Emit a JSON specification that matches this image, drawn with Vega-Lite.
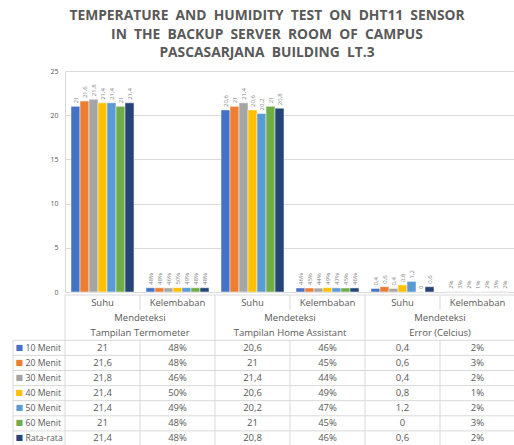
{
  "$schema": "https://vega.github.io/schema/vega-lite/v6.json",
  "padding": {"left": 12, "top": 9, "right": 0, "bottom": 0},
  "autosize": {"type": "pad"},
  "title": {
    "text": ["TEMPERATURE\u00a0 AND\u00a0 HUMIDITY\u00a0 TEST\u00a0 ON\u00a0 DHT11\u00a0 SENSOR", "IN\u00a0 THE\u00a0 BACKUP\u00a0 SERVER\u00a0 ROOM\u00a0 OF\u00a0 CAMPUS", "PASCASARJANA\u00a0 BUILDING\u00a0 LT.3"],
    "font": "Open Sans", "fontSize": 13.8, "fontWeight": "bold", "color": "#595959",
    "lineHeight": 18.5, "anchor": "middle", "offset": 7, "dx": 3
  },
  "config": {"view": {"stroke": null}, "font": "Open Sans"},
  "datasets": {
    "d": [
      {"col": "T-S", "series": "10 Menit", "value": 21, "label": "21"},
      {"col": "T-S", "series": "20 Menit", "value": 21.6, "label": "21,6"},
      {"col": "T-S", "series": "30 Menit", "value": 21.8, "label": "21,8"},
      {"col": "T-S", "series": "40 Menit", "value": 21.4, "label": "21,4"},
      {"col": "T-S", "series": "50 Menit", "value": 21.4, "label": "21,4"},
      {"col": "T-S", "series": "60 Menit", "value": 21, "label": "21"},
      {"col": "T-S", "series": "Rata-rata", "value": 21.4, "label": "21,4"},
      {"col": "T-K", "series": "10 Menit", "value": 0.48, "label": "48%"},
      {"col": "T-K", "series": "20 Menit", "value": 0.48, "label": "48%"},
      {"col": "T-K", "series": "30 Menit", "value": 0.46, "label": "46%"},
      {"col": "T-K", "series": "40 Menit", "value": 0.5, "label": "50%"},
      {"col": "T-K", "series": "50 Menit", "value": 0.49, "label": "49%"},
      {"col": "T-K", "series": "60 Menit", "value": 0.48, "label": "48%"},
      {"col": "T-K", "series": "Rata-rata", "value": 0.48, "label": "48%"},
      {"col": "H-S", "series": "10 Menit", "value": 20.6, "label": "20,6"},
      {"col": "H-S", "series": "20 Menit", "value": 21, "label": "21"},
      {"col": "H-S", "series": "30 Menit", "value": 21.4, "label": "21,4"},
      {"col": "H-S", "series": "40 Menit", "value": 20.6, "label": "20,6"},
      {"col": "H-S", "series": "50 Menit", "value": 20.2, "label": "20,2"},
      {"col": "H-S", "series": "60 Menit", "value": 21, "label": "21"},
      {"col": "H-S", "series": "Rata-rata", "value": 20.8, "label": "20,8"},
      {"col": "H-K", "series": "10 Menit", "value": 0.46, "label": "46%"},
      {"col": "H-K", "series": "20 Menit", "value": 0.45, "label": "45%"},
      {"col": "H-K", "series": "30 Menit", "value": 0.44, "label": "44%"},
      {"col": "H-K", "series": "40 Menit", "value": 0.49, "label": "49%"},
      {"col": "H-K", "series": "50 Menit", "value": 0.47, "label": "47%"},
      {"col": "H-K", "series": "60 Menit", "value": 0.45, "label": "45%"},
      {"col": "H-K", "series": "Rata-rata", "value": 0.46, "label": "46%"},
      {"col": "E-S", "series": "10 Menit", "value": 0.4, "label": "0,4"},
      {"col": "E-S", "series": "20 Menit", "value": 0.6, "label": "0,6"},
      {"col": "E-S", "series": "30 Menit", "value": 0.4, "label": "0,4"},
      {"col": "E-S", "series": "40 Menit", "value": 0.8, "label": "0,8"},
      {"col": "E-S", "series": "50 Menit", "value": 1.2, "label": "1,2"},
      {"col": "E-S", "series": "60 Menit", "value": 0, "label": "0"},
      {"col": "E-S", "series": "Rata-rata", "value": 0.6, "label": "0,6"},
      {"col": "E-K", "series": "10 Menit", "value": 0.02, "label": "2%"},
      {"col": "E-K", "series": "20 Menit", "value": 0.03, "label": "3%"},
      {"col": "E-K", "series": "30 Menit", "value": 0.02, "label": "2%"},
      {"col": "E-K", "series": "40 Menit", "value": 0.01, "label": "1%"},
      {"col": "E-K", "series": "50 Menit", "value": 0.02, "label": "2%"},
      {"col": "E-K", "series": "60 Menit", "value": 0.03, "label": "3%"},
      {"col": "E-K", "series": "Rata-rata", "value": 0.02, "label": "2%"}
    ],
    "ser": [
      {"series": "10 Menit"}, {"series": "20 Menit"}, {"series": "30 Menit"}, {"series": "40 Menit"},
      {"series": "50 Menit"}, {"series": "60 Menit"}, {"series": "Rata-rata"}
    ],
    "lv": [{"r1": "10 Menit", "r2": "Rata-rata"}],
    "hl": [
      {"row": "h1"}, {"row": "10 Menit"}, {"row": "20 Menit"}, {"row": "30 Menit"}, {"row": "40 Menit"},
      {"row": "50 Menit"}, {"row": "60 Menit"}, {"row": "Rata-rata"}
    ],
    "vf": [{"col": "T-S"}, {"col": "H-S"}, {"col": "E-S"}],
    "vp": [
      {"col": "T-K", "r1": "h1", "r2": "h1"}, {"col": "T-K", "r1": "10 Menit", "r2": "Rata-rata"},
      {"col": "H-K", "r1": "h1", "r2": "h1"}, {"col": "H-K", "r1": "10 Menit", "r2": "Rata-rata"},
      {"col": "E-K", "r1": "h1", "r2": "h1"}, {"col": "E-K", "r1": "10 Menit", "r2": "Rata-rata"}
    ],
    "hdr1": [
      {"col": "T-S", "row": "h1", "text": "Suhu"}, {"col": "T-K", "row": "h1", "text": "Kelembaban"},
      {"col": "H-S", "row": "h1", "text": "Suhu"}, {"col": "H-K", "row": "h1", "text": "Kelembaban"},
      {"col": "E-S", "row": "h1", "text": "Suhu"}, {"col": "E-K", "row": "h1", "text": "Kelembaban"}
    ],
    "hdr2": [
      {"col": "T-K", "row": "h2", "text": "Mendeteksi"}, {"col": "T-K", "row": "h3", "text": "Tampilan Termometer"},
      {"col": "H-K", "row": "h2", "text": "Mendeteksi"}, {"col": "H-K", "row": "h3", "text": "Tampilan Home Assistant"},
      {"col": "E-K", "row": "h2", "text": "Mendeteksi"}, {"col": "E-K", "row": "h3", "text": "Error (Celcius)"}
    ]
  },
  "spacing": -2,
  "resolve": {"scale": {"x": "independent", "y": "independent"}},
  "vconcat": [
    {
      "spacing": 0,
      "bounds": "flush",
      "resolve": {"scale": {"x": "independent", "y": "independent"}},
      "hconcat": [
        {
          "width": 52, "height": 221,
          "data": {"values": [{}]},
          "mark": {"type": "text", "text": ""}
        },
        {
          "width": 450, "height": 221,
          "data": {"name": "d"},
          "encoding": {
            "x": {"field": "col", "type": "nominal", "axis": null,
                  "scale": {"domain": ["T-S", "T-K", "H-S", "H-K", "E-S", "E-K"], "paddingInner": 0.16, "paddingOuter": 0.08}},
            "xOffset": {"field": "series", "type": "nominal",
                  "scale": {"domain": ["10 Menit", "20 Menit", "30 Menit", "40 Menit", "50 Menit", "60 Menit", "Rata-rata"], "paddingInner": 0, "paddingOuter": 0}},
            "y": {"field": "value", "type": "quantitative",
                  "scale": {"domain": [0, 25]},
                  "axis": {"values": [0, 5, 10, 15, 20, 25], "title": null, "grid": true, "gridColor": "#d9d9d9",
                           "domain": true, "domainColor": "#d9d9d9", "ticks": false,
                           "labelFontSize": 7, "labelColor": "#595959", "labelPadding": 7}}
          },
          "layer": [
            {"mark": {"type": "bar", "stroke": "white", "strokeWidth": 0.5},
             "encoding": {"color": {"field": "series", "type": "nominal", "legend": null,
               "scale": {"domain": ["10 Menit", "20 Menit", "30 Menit", "40 Menit", "50 Menit", "60 Menit", "Rata-rata"],
                         "range": ["#4472C4", "#ED7D31", "#A5A5A5", "#FFC000", "#5B9BD5", "#70AD47", "#264478"]}}}},
            {"mark": {"type": "text", "angle": 270, "align": "left", "baseline": "middle", "dx": 3, "fontSize": 6, "color": "#7f7f7f"},
             "encoding": {"text": {"field": "label", "type": "nominal"}}}
          ]
        }
      ]
    },
    {
      "spacing": 0,
      "bounds": "flush",
      "resolve": {"scale": {"x": "independent", "y": "independent"}},
      "hconcat": [
        {
          "width": 52, "height": 151,
          "encoding": {
            "y": {"field": "series", "type": "nominal", "axis": null,
                  "scale": {"type": "band", "paddingInner": 0, "paddingOuter": 0,
                            "domain": ["h1", "h2", "h3", "10 Menit", "20 Menit", "30 Menit", "40 Menit", "50 Menit", "60 Menit", "Rata-rata"]}}
          },
          "layer": [
            {"data": {"name": "ser"},
             "mark": {"type": "rule", "color": "#d9d9d9", "strokeWidth": 1},
             "encoding": {"y": {"field": "series", "type": "nominal", "bandPosition": 0}}},
            {"data": {"name": "lv"},
             "mark": {"type": "rule", "color": "#d9d9d9", "strokeWidth": 1},
             "encoding": {
               "x": {"datum": "a", "type": "nominal", "bandPosition": 0, "axis": null,
                     "scale": {"type": "band", "domain": ["a"], "paddingInner": 0, "paddingOuter": 0}},
               "y": {"field": "r1", "type": "nominal", "bandPosition": 0},
               "y2": {"field": "r2", "bandPosition": 1}}},
            {"data": {"name": "ser"},
             "mark": {"type": "text", "text": "■", "font": "DejaVu Sans", "fontSize": 8, "dx": -19.7},
             "encoding": {"color": {"field": "series", "type": "nominal", "legend": null,
               "scale": {"domain": ["10 Menit", "20 Menit", "30 Menit", "40 Menit", "50 Menit", "60 Menit", "Rata-rata"],
                         "range": ["#4472C4", "#ED7D31", "#A5A5A5", "#FFC000", "#5B9BD5", "#70AD47", "#264478"]}}}},
            {"data": {"name": "ser"},
             "mark": {"type": "text", "align": "left", "dx": -13.5, "fontSize": 8.7, "color": "#595959"},
             "encoding": {"text": {"field": "series", "type": "nominal"}}}
          ]
        },
        {
          "width": 450, "height": 151,
          "encoding": {
            "x": {"field": "col", "type": "nominal", "axis": null,
                  "scale": {"type": "band", "domain": ["T-S", "T-K", "H-S", "H-K", "E-S", "E-K"], "paddingInner": 0, "paddingOuter": 0}}
          },
          "layer": [
            {"data": {"name": "hl"},
             "mark": {"type": "rule", "color": "#d9d9d9"},
             "encoding": {"x": null,
               "y": {"field": "row", "type": "nominal", "bandPosition": 0, "axis": null,
                     "scale": {"type": "band", "paddingInner": 0, "paddingOuter": 0,
                               "domain": ["h1", "h2", "h3", "10 Menit", "20 Menit", "30 Menit", "40 Menit", "50 Menit", "60 Menit", "Rata-rata"]}}}},
            {"data": {"name": "vf"},
             "mark": {"type": "rule", "color": "#d9d9d9"},
             "encoding": {"x": {"field": "col", "type": "nominal", "bandPosition": 0}}},
            {"data": {"name": "vp"},
             "mark": {"type": "rule", "color": "#d9d9d9"},
             "encoding": {"x": {"field": "col", "type": "nominal", "bandPosition": 0},
               "y": {"field": "r1", "type": "nominal", "bandPosition": 0},
               "y2": {"field": "r2", "bandPosition": 1}}},
            {"data": {"name": "d"},
             "mark": {"type": "text", "fontSize": 9.5, "color": "#595959"},
             "encoding": {"y": {"field": "series", "type": "nominal"},
               "text": {"field": "label", "type": "nominal"}}},
            {"data": {"name": "hdr1"},
             "mark": {"type": "text", "fontSize": 9.5, "color": "#595959"},
             "encoding": {"y": {"field": "row", "type": "nominal"},
               "text": {"field": "text", "type": "nominal"}}},
            {"data": {"name": "hdr2"},
             "mark": {"type": "text", "fontSize": 9.5, "color": "#595959"},
             "encoding": {"x": {"field": "col", "type": "nominal", "bandPosition": 0},
               "y": {"field": "row", "type": "nominal"},
               "text": {"field": "text", "type": "nominal"}}}
          ]
        }
      ]
    }
  ]
}
